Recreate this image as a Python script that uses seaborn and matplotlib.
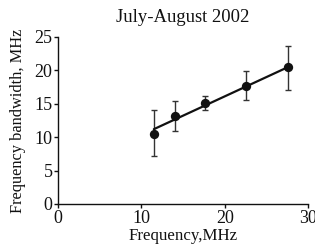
import matplotlib
matplotlib.use("Agg")
import matplotlib.pyplot as plt
import seaborn as sns
import pandas as pd

freq = [11.5, 14.0, 17.6, 22.6, 27.6]
bandwidth = [10.5, 13.1, 15.1, 17.7, 20.5]
err_low = [7.2, 11.0, 14.0, 15.6, 17.1]
err_high = [14.1, 15.4, 16.2, 19.9, 23.7]
fit_x = [11.5, 27.6]
fit_y = [11.2, 20.5]
x_ticks = [0, 10, 20, 30]
y_ticks = [0, 5, 10, 15, 20, 25]

sns.set_style("ticks")
plt.rcParams['font.family'] = ['Liberation Serif', 'DejaVu Serif']

fig = plt.figure(figsize=(3.15, 2.5), dpi=100)
ax = fig.add_axes([0.184, 0.184, 0.794, 0.668])

df = pd.DataFrame({"f": freq, "b": bandwidth})
fit = pd.DataFrame({"x": fit_x, "y": fit_y})

yerr = [[b - l for b, l in zip(bandwidth, err_low)],
        [h - b for b, h in zip(bandwidth, err_high)]]
ax.errorbar(freq, bandwidth, yerr=yerr, fmt="none", ecolor="#333333",
            elinewidth=1.0, capsize=2.5, capthick=1.0, zorder=2)
sns.lineplot(data=fit, x="x", y="y", color="#111111", linewidth=1.6, ax=ax, zorder=3)
sns.scatterplot(data=df, x="f", y="b", color="#111111", s=45, edgecolor="#111111",
                linewidth=0, ax=ax, zorder=4)

ax.set_xlim(0, 30)
ax.set_ylim(0, 25)
ax.set_xticks(x_ticks)
ax.set_yticks(y_ticks)
ax.tick_params(labelsize=13, length=3, width=1, colors="#111111", pad=1)
for s in ["top", "right"]:
    ax.spines[s].set_visible(False)
for s in ["left", "bottom"]:
    ax.spines[s].set_linewidth(1.0)
    ax.spines[s].set_color("#111111")
ax.set_xlabel("Frequency,MHz", fontsize=12.2, labelpad=1, color="#111111")
ax.set_ylabel("Frequency bandwidth, MHz", fontsize=11.8, labelpad=6, color="#111111")
ax.set_title("July-August 2002", fontsize=13.4, pad=11, color="#111111")

fig.savefig("out.png", dpi=100)
